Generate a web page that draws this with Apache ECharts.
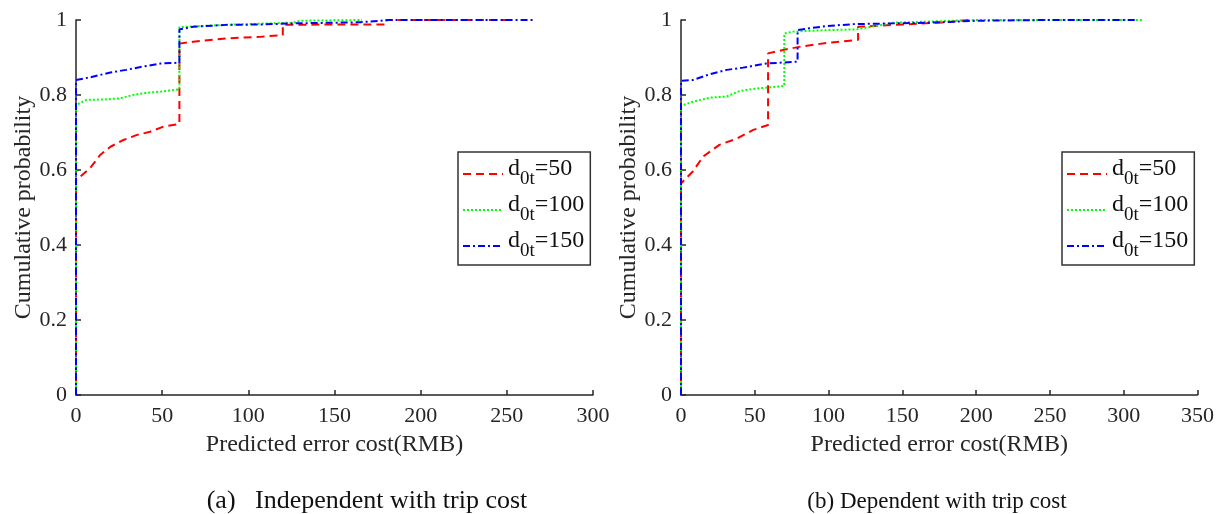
<!DOCTYPE html>
<html>
<head>
<meta charset="utf-8">
<script src="https://cdn.jsdelivr.net/npm/echarts@6/dist/echarts.min.js"></script>
<style>
html,body{margin:0;padding:0;background:#fff;}
#chart{width:1217px;height:514px;}
</style>
</head>
<body>
<div id="chart"></div>
<script>
// ---- data ----
const legendValues = ['50', '100', '150'];
const seriesNames = ['d0t=50', 'd0t=100', 'd0t=150'];

// (a) Independent with trip cost
const redA_x   = [0, 0, 8, 14, 20, 27.5, 35, 43, 51, 60, 60, 68, 87, 107, 120, 120, 150, 180, 180, 250];
const redA_y   = [0, 0.573, 0.604, 0.64, 0.662, 0.68, 0.693, 0.702, 0.716, 0.723, 0.937, 0.942, 0.951, 0.955, 0.96, 0.987, 0.988, 0.988, 1, 1];
const greenA_x = [0, 0, 6, 16, 25.5, 33, 41, 49, 60, 60, 68, 87, 126, 130, 166];
const greenA_y = [0, 0.773, 0.787, 0.788, 0.791, 0.8, 0.806, 0.809, 0.815, 0.981, 0.983, 0.987, 0.993, 0.998, 1];
const blueA_x  = [0, 0, 8, 20, 29, 39, 49, 60, 60, 68, 87, 107, 126, 165, 182, 265];
const blueA_y  = [0, 0.84, 0.847, 0.86, 0.867, 0.876, 0.884, 0.886, 0.975, 0.982, 0.987, 0.988, 0.991, 0.994, 1, 1];

// (b) Dependent with trip cost
const redB_x   = [0, 0, 8, 15, 26, 38, 49, 59, 59, 69, 81, 99, 120, 120, 150, 180, 195];
const redB_y   = [0, 0.564, 0.596, 0.636, 0.667, 0.684, 0.707, 0.72, 0.911, 0.92, 0.929, 0.939, 0.947, 0.982, 0.988, 0.994, 1];
const greenB_x = [0, 0, 8, 20, 31, 40, 53, 70, 70, 76, 99, 119, 132, 144, 170, 200, 313];
const greenB_y = [0, 0.771, 0.782, 0.793, 0.796, 0.811, 0.818, 0.824, 0.964, 0.969, 0.973, 0.975, 0.984, 0.993, 0.996, 1, 1];
const blueB_x  = [0, 0, 8, 20, 31, 42, 58, 79, 79, 87, 99, 117, 144, 170, 200, 250, 309];
const blueB_y  = [0, 0.838, 0.84, 0.856, 0.867, 0.873, 0.884, 0.889, 0.973, 0.978, 0.984, 0.989, 0.991, 0.993, 0.998, 1, 1];

const captionA = '(a)   Independent with trip cost';
const captionB = '(b) Dependent with trip cost';
const xName = 'Predicted error cost(RMB)';
const yName = 'Cumulative probability';

// ---- build ----
const zip = (xs, ys) => xs.map((x, i) => [x, ys[i]]);
const FONT = '"Liberation Serif", "Times New Roman", serif';
const AXC = '#262626';
const colors = ['#ff0000', '#00ff00', '#0000ff'];
const dashes = [[8, 5], [2, 2], [7, 3, 2, 3]];

function xAxis(gi, max) {
  return {
    type: 'value', gridIndex: gi, min: 0, max: max, interval: 50,
    name: xName, nameLocation: 'middle', nameGap: 38,
    nameTextStyle: {fontFamily: FONT, fontSize: 24, color: AXC},
    axisLine: {show: true, onZero: false, lineStyle: {color: AXC, width: 1.5}},
    axisTick: {show: true, inside: true, length: 5, lineStyle: {color: AXC, width: 1.5}},
    axisLabel: {fontFamily: FONT, fontSize: 22, color: AXC, margin: 10},
    splitLine: {show: false}
  };
}
function yAxis(gi) {
  return {
    type: 'value', gridIndex: gi, min: 0, max: 1, interval: 0.2,
    name: yName, nameLocation: 'middle', nameGap: 40, nameRotate: 90,
    nameTextStyle: {fontFamily: FONT, fontSize: 24, color: AXC},
    axisLine: {show: true, onZero: false, lineStyle: {color: AXC, width: 1.5}},
    axisTick: {show: true, inside: true, length: 5, lineStyle: {color: AXC, width: 1.5}},
    axisLabel: {fontFamily: FONT, fontSize: 22, color: AXC, margin: 9},
    splitLine: {show: false}
  };
}
function line(name, gi, data, k) {
  return {
    type: 'line', name: name, xAxisIndex: gi, yAxisIndex: gi, data: data,
    symbol: 'none', animation: false, z: 2 + k,
    lineStyle: {color: colors[k], width: 2, type: dashes[k]},
    itemStyle: {color: colors[k]}
  };
}
function legend(left) {
  return {
    orient: 'vertical', left: left, top: 152,
    itemWidth: 40, itemHeight: 14, itemGap: 2,
    padding: [5, 6, 2, 4],
    borderColor: '#333', borderWidth: 1.5,
    itemStyle: {color: 'rgba(0,0,0,0)', borderColor: 'rgba(0,0,0,0)', borderWidth: 0, opacity: 0},
    data: seriesNames,
    formatter: function (n) {
      const i = seriesNames.indexOf(n);
      return '{a|d}{b|0t}{a|=' + legendValues[i] + '}';
    },
    textStyle: {
      fontFamily: FONT, color: '#111', fontSize: 23,
      rich: {
        a: {fontFamily: FONT, fontSize: 24, color: '#111', lineHeight: 24, padding: [0, 0, 10, 0]},
        b: {fontFamily: FONT, fontSize: 19, color: '#111', lineHeight: 24, padding: [10, 0, 0, 0]}
      }
    }
  };
}

const chart = echarts.init(document.getElementById('chart'), null, {renderer: 'canvas'});
chart.setOption({
  backgroundColor: '#fff',
  animation: false,
  grid: [
    {left: 76, top: 20, width: 517, height: 375},
    {left: 681, top: 20, width: 517, height: 375}
  ],
  xAxis: [xAxis(0, 300), xAxis(1, 350)],
  yAxis: [yAxis(0), yAxis(1)],
  legend: [legend(458), legend(1062)],
  series: [
    line(seriesNames[0], 0, zip(redA_x, redA_y), 0),
    line(seriesNames[1], 0, zip(greenA_x, greenA_y), 1),
    line(seriesNames[2], 0, zip(blueA_x, blueA_y), 2),
    line(seriesNames[0], 1, zip(redB_x, redB_y), 0),
    line(seriesNames[1], 1, zip(greenB_x, greenB_y), 1),
    line(seriesNames[2], 1, zip(blueB_x, blueB_y), 2)
  ],
  graphic: [
    {type: 'text', x: 367, y: 488, style: {text: captionA, font: '26px ' + FONT, fill: '#111', align: 'center', verticalAlign: 'top'}},
    {type: 'text', x: 937, y: 490, style: {text: captionB, font: '23px ' + FONT, fill: '#111', align: 'center', verticalAlign: 'top'}}
  ]
});
</script>
</body>
</html>
